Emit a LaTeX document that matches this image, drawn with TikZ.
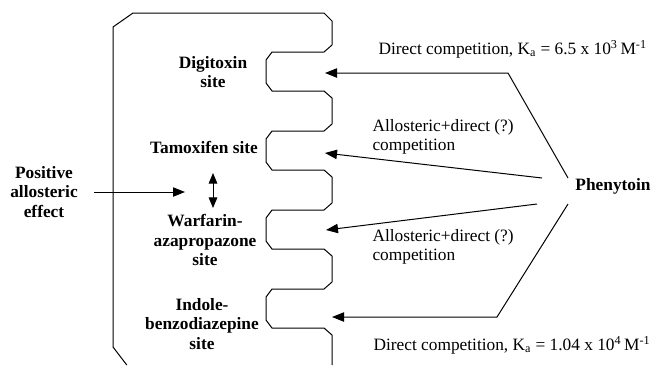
\documentclass[tikz,border=0pt]{standalone}
\usepackage{fontspec}
\setmainfont{Liberation Serif}
\usetikzlibrary{arrows.meta}

\begin{document}
\begin{tikzpicture}[x=0.75pt, y=-0.75pt, line width=0.75pt,
    site/.style={font=\fontsize{13}{14.6}\selectfont\bfseries, align=center, inner sep=0pt},
    note/.style={font=\fontsize{13}{14.6}\selectfont, align=left, anchor=west, inner sep=0pt},
    arr/.style={-{Triangle[length=9pt,width=7pt]}},
    dblarr/.style={{Triangle[length=8pt,width=6.5pt]}-{Triangle[length=8pt,width=6.5pt]}}]
    \useasboundingbox (0,0) rectangle (652,365);
    % albumin outline, four pockets on the right
    \draw (126.8,365) -- (113,347) -- (113,27) -- (133,13) -- (324,13) -- (332,21)
      \foreach \y in {52,131,210,289} {
        -- (332,\y-7) -- (324,\y) -- (272,\y) -- (266,\y+8) -- (266,\y+31)
        -- (272,\y+39) -- (324,\y+39) -- (332,\y+46)
      } -- (332,365);
    \node [site] (digi) at (213,72) {Digitoxin\\site};
    \node [site] (tamo) at (204,147) {Tamoxifen site};
    \node [site] (warf) at (205,240) {Warfarin-\\azapropazone\\site};
    \node [site] (indo) at (202,324) {Indole-\\benzodiazepine\\site};
    \node [site] (pos) at (44,192) {Positive\\allosteric\\effect};
    \node [site] (phen) at (613,186) {Phenytoin};
    \node [note] (ka1) at (378,49) {Direct competition, K\textsubscript{a} = 6.5 x 10\textsuperscript{3}\,M\textsuperscript{-1}};
    \node [note] (mix1) at (372,137) {Allosteric+direct (?)\\competition};
    \node [note] (mix2) at (372,247) {Allosteric+direct (?)\\competition};
    \node [note] (ka2) at (373,345) {Direct competition, K\textsubscript{a} = 1.04 x 10\textsuperscript{4}\,M\textsuperscript{-1}};
    \coordinate (pocket1) at (325,73);
    \coordinate (pocket2) at (325,153);
    \coordinate (pocket3) at (326,230);
    \coordinate (pocket4) at (332,317);
    \coordinate (ph1) at (568,178);
    \coordinate (ph2) at (542,178);
    \coordinate (ph3) at (537,204);
    \coordinate (ph4) at (568,204);
    \coordinate (bend1) at (508,73);
    \coordinate (bend4) at (497,317);
    \coordinate (allo) at (185,192);
    \coordinate (up) at (213,173);
    \coordinate (down) at (213,208);
    \draw [arr] (ph1) -- (bend1) -- (pocket1);
    \draw [arr] (ph2) -- (pocket2);
    \draw [arr] (ph3) -- (pocket3);
    \draw [arr] (ph4) -- (bend4) -- (pocket4);
    \draw [arr, shorten <=12pt] (pos) -- (allo);
    \draw [dblarr] (up) -- (down);
\end{tikzpicture}
\end{document}
